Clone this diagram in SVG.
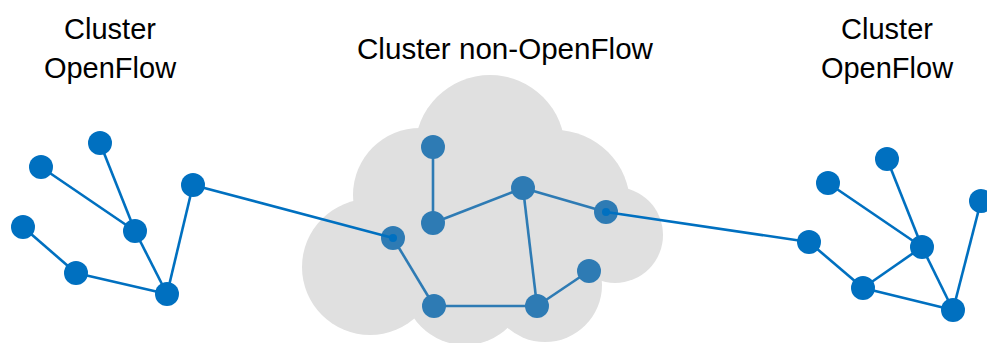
<svg xmlns="http://www.w3.org/2000/svg" width="987" height="343" viewBox="0 0 987 343">
  <style>
    .label { font-family: "Liberation Sans", Arial, sans-serif; font-size: 29px; fill: #000; text-anchor: middle; }
    .cloud { fill: #E0E0E0; }
    .link { stroke: #0070C0; stroke-width: 2.6; fill: none; }
    .link-in { stroke: #2E7BB4; stroke-width: 2.6; fill: none; }
    .of { fill: #0070C0; }
    .nof { fill: #2E7BB4; }
    .core { fill: #0070C0; }
  </style>

  <!-- headings -->
  <g id="labels">
    <text class="label" x="110" y="39">Cluster</text>
    <text class="label" x="110" y="78">OpenFlow</text>
    <text class="label" x="505" y="59" textLength="296" lengthAdjust="spacingAndGlyphs">Cluster non-OpenFlow</text>
    <text class="label" x="887" y="39">Cluster</text>
    <text class="label" x="887" y="78">OpenFlow</text>
  </g>

  <!-- cloud built from overlapping circles -->
  <g id="cloud" class="cloud">
    <circle cx="490" cy="150" r="75"/>
    <circle cx="420" cy="195" r="67"/>
    <circle cx="555" cy="205" r="75"/>
    <circle cx="615" cy="235" r="48"/>
    <circle cx="370" cy="267" r="68"/>
    <circle cx="465" cy="283" r="62"/>
    <circle cx="545" cy="285" r="57"/>
    <rect x="400" y="170" width="190" height="130"/>
  </g>

  <!-- connectors -->
  <g id="connectors">
    <!-- left cluster -->
    <line class="link" x1="41" y1="167" x2="135" y2="231"/>
    <line class="link" x1="100" y1="143" x2="135" y2="231"/>
    <line class="link" x1="135" y1="231" x2="167" y2="294"/>
    <line class="link" x1="23" y1="227" x2="76" y2="273"/>
    <line class="link" x1="76" y1="273" x2="167" y2="294"/>
    <line class="link" x1="167" y1="294" x2="193" y2="185"/>
    <!-- inner cloud links -->
    <line class="link-in" x1="433" y1="147" x2="433" y2="223"/>
    <line class="link-in" x1="433" y1="223" x2="523" y2="188"/>
    <line class="link-in" x1="523" y1="188" x2="606" y2="212"/>
    <line class="link-in" x1="523" y1="188" x2="537" y2="306"/>
    <line class="link-in" x1="393" y1="238" x2="434" y2="306"/>
    <line class="link-in" x1="434" y1="306" x2="537" y2="306"/>
    <line class="link-in" x1="537" y1="306" x2="589" y2="271"/>
    <!-- right cluster -->
    <line class="link" x1="828" y1="183" x2="922" y2="247"/>
    <line class="link" x1="887" y1="159" x2="922" y2="247"/>
    <line class="link" x1="922" y1="247" x2="863" y2="288"/>
    <line class="link" x1="922" y1="247" x2="953" y2="310"/>
    <line class="link" x1="809" y1="242" x2="863" y2="288"/>
    <line class="link" x1="863" y1="288" x2="953" y2="310"/>
    <line class="link" x1="953" y1="310" x2="981" y2="201"/>
  </g>

  <!-- left OpenFlow nodes -->
  <g id="L1"><circle class="of" cx="100" cy="143" r="12"/></g>
  <g id="L2"><circle class="of" cx="41" cy="167" r="12"/></g>
  <g id="L3"><circle class="of" cx="23" cy="227" r="12"/></g>
  <g id="L4"><circle class="of" cx="76" cy="273" r="12"/></g>
  <g id="L5"><circle class="of" cx="135" cy="231" r="12"/></g>
  <g id="L6"><circle class="of" cx="167" cy="294" r="12"/></g>

  <!-- non-OpenFlow nodes -->
  <g id="N1"><circle class="nof" cx="433" cy="147" r="12"/></g>
  <g id="N2"><circle class="nof" cx="433" cy="223" r="12"/></g>
  <g id="N3"><circle class="nof" cx="523" cy="188" r="12"/></g>
  <g id="N4"><circle class="nof" cx="606" cy="212" r="12"/></g>
  <g id="N5"><circle class="nof" cx="393" cy="238" r="12"/></g>
  <g id="N6"><circle class="nof" cx="434" cy="306" r="12"/></g>
  <g id="N7"><circle class="nof" cx="537" cy="306" r="12"/></g>
  <g id="N8"><circle class="nof" cx="589" cy="271" r="12"/></g>

  <!-- inter-cluster links, drawn over the border nodes -->
  <g id="bridges">
    <line class="link" x1="193" y1="185" x2="393" y2="238"/>
    <line class="link" x1="606" y1="212" x2="809" y2="242"/>
    <circle class="core" cx="393" cy="238" r="4"/>
    <circle class="core" cx="606" cy="212" r="4"/>
  </g>

  <!-- right OpenFlow nodes -->
  <g id="L7"><circle class="of" cx="193" cy="185" r="12"/></g>
  <g id="R1"><circle class="of" cx="809" cy="242" r="12"/></g>
  <g id="R2"><circle class="of" cx="828" cy="183" r="12"/></g>
  <g id="R3"><circle class="of" cx="887" cy="159" r="12"/></g>
  <g id="R4"><circle class="of" cx="981" cy="201" r="12"/></g>
  <g id="R5"><circle class="of" cx="922" cy="247" r="12"/></g>
  <g id="R6"><circle class="of" cx="863" cy="288" r="12"/></g>
  <g id="R7"><circle class="of" cx="953" cy="310" r="12"/></g>
</svg>
